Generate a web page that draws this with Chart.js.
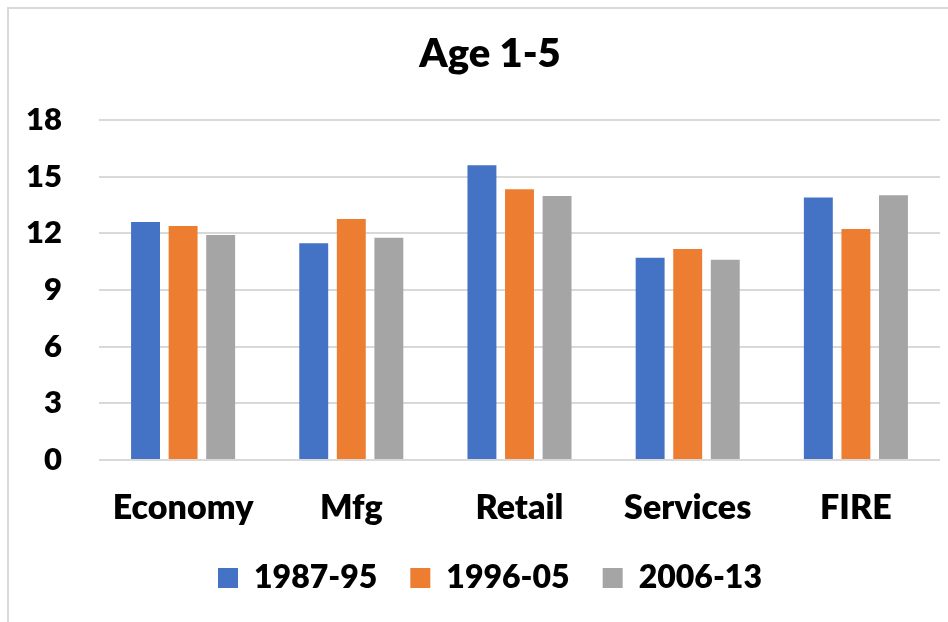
<!DOCTYPE html>
<html>
<head>
<meta charset="utf-8">
<script src="https://cdn.jsdelivr.net/npm/chart.js@4/dist/chart.umd.min.js"></script>
<style>
  html, body { margin: 0; padding: 0; background: #ffffff; width: 948px; height: 622px; overflow: hidden; }
  #frame { position: absolute; left: 7px; top: 7px; width: 1100px; height: 900px; border: 2px solid #d9d9d9; box-sizing: border-box; }
  #wrap { position: absolute; left: 0; top: 0; width: 980px; height: 622px; }
</style>
</head>
<body>
<div id="frame"></div>
<div id="wrap"><canvas id="c" width="980" height="622"></canvas></div>
<script>
const categories = ["Economy", "Mfg", "Retail", "Services", "FIRE"];
const seriesNames = ["1987-95", "1996-05", "2006-13"];
const values1987_95 = [12.6, 11.47, 15.6, 10.71, 13.9];
const values1996_05 = [12.39, 12.76, 14.33, 11.17, 12.23];
const values2006_13 = [11.91, 11.77, 13.98, 10.6, 14.01];
const yTicks = [0, 3, 6, 9, 12, 15, 18];
const titleText = "Age 1-5";

const colors = ["#4472C4", "#ED7D31", "#A5A5A5"];
const FONT = "Lato, 'Open Sans', sans-serif";
const W = 800;

new Chart(document.getElementById("c"), {
  type: "bar",
  data: {
    labels: categories,
    datasets: [
      { label: seriesNames[0], data: values1987_95, backgroundColor: colors[0] },
      { label: seriesNames[1], data: values1996_05, backgroundColor: colors[1] },
      { label: seriesNames[2], data: values2006_13, backgroundColor: colors[2] }
    ]
  },
  options: {
    responsive: false,
    animation: false,
    devicePixelRatio: 1,
    layout: { padding: { left: 0, right: 0, top: 0, bottom: 18 } },
    datasets: { bar: { categoryPercentage: 0.67, barPercentage: 0.77 } },
    plugins: {
      title: {
        display: true,
        text: titleText,
        color: "#000000",
        font: { family: FONT, size: 40, weight: W },
        padding: { top: 30, bottom: 42 }
      },
      legend: {
        display: true,
        position: "bottom",
        labels: {
          color: "#000000",
          font: { family: FONT, size: 32, weight: W },
          boxWidth: 20,
          boxHeight: 20,
          padding: 33
        }
      },
      tooltip: { enabled: false }
    },
    scales: {
      x: {
        afterFit: (axis) => { axis.height = 69; },
        grid: { display: false, drawTicks: false },
        border: { display: false },
        ticks: {
          color: "#000000",
          font: { family: FONT, size: 34, weight: W },
          padding: 28,
          maxRotation: 0
        }
      },
      y: {
        min: 0,
        max: 18,
        afterBuildTicks: (axis) => { axis.ticks = yTicks.map(v => ({ value: v })); },
        afterFit: (axis) => { axis.width = 99; },
        grid: { color: "#d9d9d9", lineWidth: 2, drawTicks: false },
        border: { display: false },
        ticks: {
          color: "#000000",
          font: { family: FONT, size: 31, weight: W },
          padding: 37
        }
      },
      yRightSpace: {
        type: "linear",
        position: "right",
        min: 0,
        max: 18,
        afterFit: (axis) => { axis.width = 40; },
        grid: { display: false, drawTicks: false },
        border: { display: false },
        ticks: { display: false }
      }
    }
  }
});
</script>
</body>
</html>
